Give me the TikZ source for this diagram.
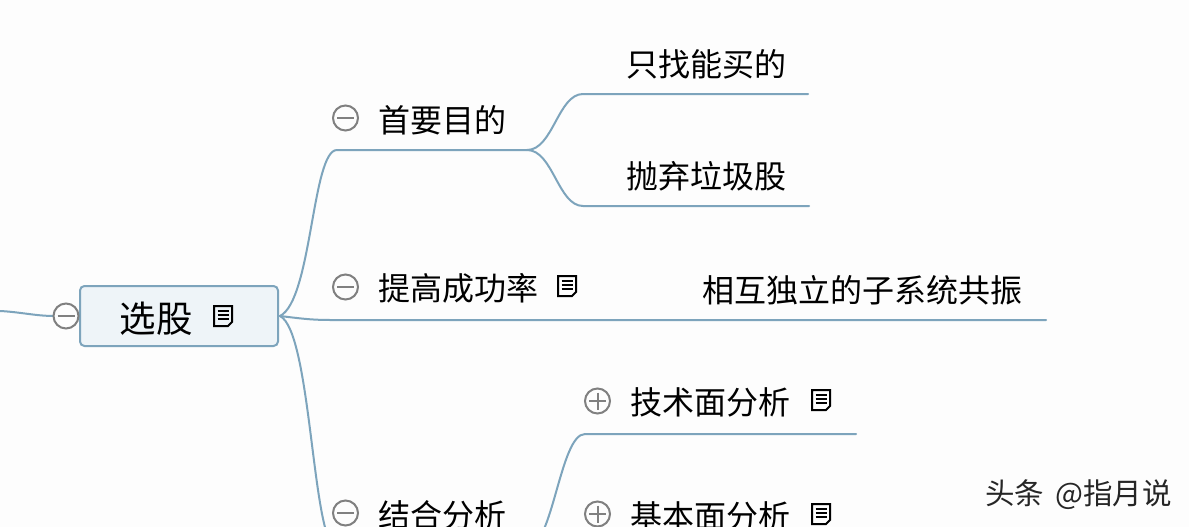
\documentclass[tikz,border=0pt]{standalone}
\usepackage{fontspec}
\newfontfamily\cjk{Noto Sans CJK SC}
\definecolor{linec}{HTML}{7DA4BC}
\definecolor{boxfill}{HTML}{EEF4F8}
\definecolor{ctrl}{HTML}{808080}
\definecolor{bgc}{HTML}{FDFDFD}
\tikzset{
  branch/.style={draw=linec,line width=2pt,line cap=round},
  topic/.style={inner sep=0pt,text=black,font=\cjk\fontsize{32}{33}\selectfont},
  ctrlc/.style={circle,draw=ctrl,line width=2pt,fill=bgc,minimum size=25pt,inner sep=0pt},
  ctrll/.style={draw=ctrl,line width=2pt},
  noteb/.style={draw=black,line width=2pt,line join=miter},
  notel/.style={draw=black,line width=1.6pt},
  wmark/.style={inner sep=0pt,anchor=west,font=\cjk\fontsize{29.5}{30}\selectfont}
}
\newcommand{\noteicon}[2]{%
  \begin{scope}[shift={(#1,#2)}]
    \draw[noteb] (-9,-10) -- (9,-10) -- (9,6) -- (5,10) -- (-9,10) -- cycle;
    \draw[notel] (-5.5,-5) -- (5.5,-5) (-5.5,-1) -- (5.5,-1) (-5.5,3) -- (5.5,3);
  \end{scope}}
\newcommand{\minusc}[3]{\node[ctrlc] (#1) at (#2,#3) {};
  \draw[ctrll] ($(#1.center)+(-8.5,0)$) -- ($(#1.center)+(8.5,0)$);}
\newcommand{\plusc}[3]{\node[ctrlc] (#1) at (#2,#3) {};
  \draw[ctrll] ($(#1.center)+(-8.5,0)$) -- ($(#1.center)+(8.5,0)$) ($(#1.center)+(0,-8.5)$) -- ($(#1.center)+(0,8.5)$);}
\usetikzlibrary{calc}
\begin{document}
\begin{tikzpicture}[x=1pt,y=-1pt]
\useasboundingbox (0,0) rectangle (1189,527);
\clip (0,0) rectangle (1189,527);
\fill[bgc] (0,0) rectangle (1189,527);
% anchors
\coordinate (incoming) at (0,311);
\coordinate (hub) at (280,316);
\coordinate (a1) at (337,150);
\coordinate (a2) at (527,150);
\coordinate (b1) at (330,320);
\coordinate (b2) at (1046,320);
\coordinate (c1) at (337,548);
\coordinate (c2) at (527,548);
\coordinate (d1) at (583,94);
\coordinate (d2) at (808,94);
\coordinate (e1) at (583,206);
\coordinate (e2) at (809,206);
\coordinate (f1) at (585,434);
\coordinate (f2) at (856,434);
% connectors
\draw[branch] (incoming) .. controls (20,312) and (36,316) .. (54,316);
\draw[branch] (hub) .. controls (312,300) and (312,150) .. (a1) -- (a2);
\draw[branch] (hub) .. controls (297,318) and (310,320) .. (b1) -- (b2);
\draw[branch] (hub) .. controls (312,332) and (312,548) .. (c1) -- (c2);
\draw[branch] (a2) .. controls (553,150) and (558,94) .. (d1) -- (d2);
\draw[branch] (a2) .. controls (553,150) and (558,206) .. (e1) -- (e2);
\draw[branch] (c2) .. controls (553,548) and (560,434) .. (f1) -- (f2);
% root
\node[draw=linec,line width=2pt,fill=boxfill,rounded corners=4.5pt,minimum width=198pt,minimum height=60pt,inner sep=0pt] (root) at (179,316) {};
\node[topic,font=\cjk\fontsize{36.5}{37}\selectfont] (rootl) at (156,318.5) {选股};
\noteicon{223}{316}
\minusc{cr}{66}{316}
% first-level
\minusc{c1ctl}{345.5}{118}
\node[topic,anchor=west] (t1) at (378,120) {首要目的};
\minusc{c2ctl}{345.5}{287}
\node[topic,anchor=west] (t2) at (378,288) {提高成功率};
\noteicon{567}{286}
\minusc{c3ctl}{345.5}{513}
\node[topic,anchor=west] (t3) at (378,515) {结合分析};
% second-level
\node[topic,anchor=west] (s1) at (626,64) {只找能买的};
\node[topic,anchor=west] (s2) at (626,176) {抛弃垃圾股};
\node[topic,anchor=west] (s3) at (702,290) {相互独立的子系统共振};
\plusc{c4ctl}{597.5}{401}
\node[topic,anchor=west] (s4) at (630,402) {技术面分析};
\noteicon{821}{400}
\plusc{c5ctl}{597.5}{514}
\node[topic,anchor=west] (s5) at (630,516) {基本面分析};
\noteicon{821}{514}
% watermark
\node[wmark,text=white] (wms) at (986.5,496.5) {头条\hspace{11pt}@指月说};
\node[wmark,text=black!85] (wm) at (985,495) {头条\hspace{11pt}@指月说};
\end{tikzpicture}
\end{document}
